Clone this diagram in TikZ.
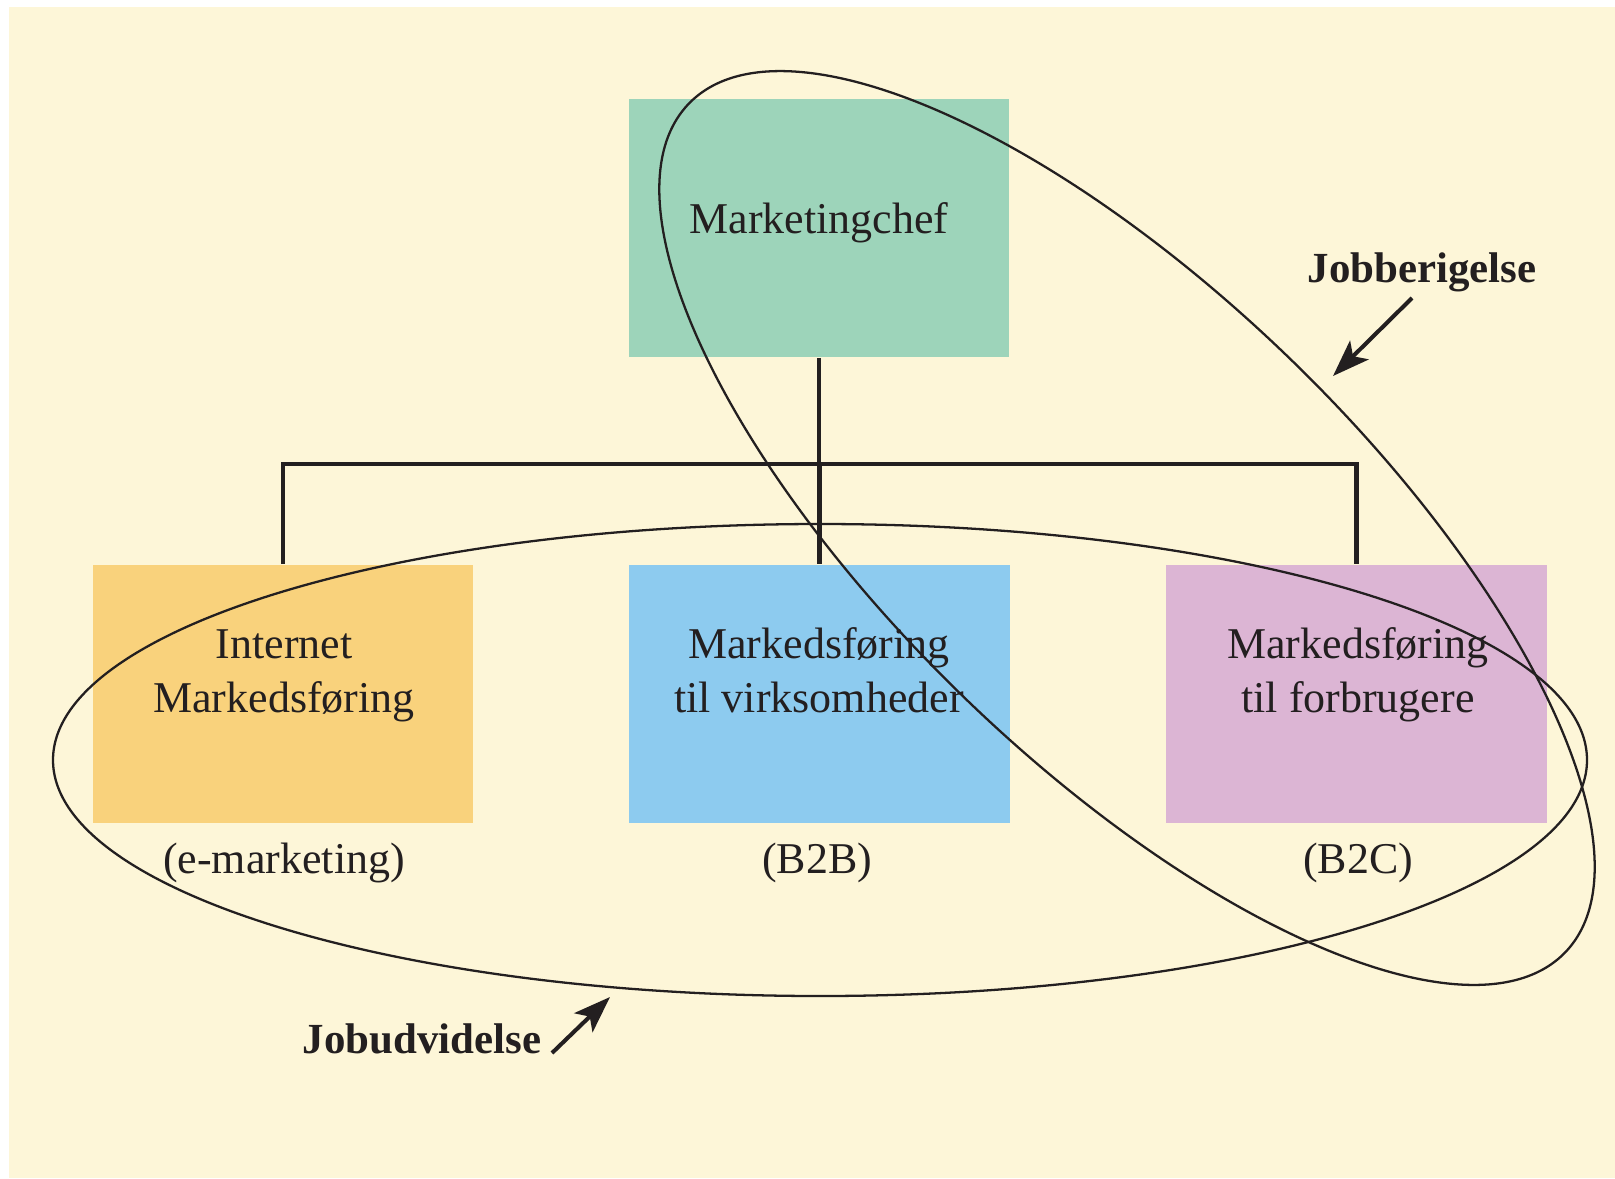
\documentclass[tikz,border=0pt]{standalone}
\usepackage{fontspec}
\setmainfont{Liberation Serif}
\usetikzlibrary{arrows.meta}

\definecolor{paper}{HTML}{FDF6D8}
\definecolor{ink}{HTML}{231F20}
\definecolor{chefgreen}{HTML}{9DD4BA}
\definecolor{webyellow}{HTML}{F9D27C}
\definecolor{bizblue}{HTML}{8DCBEF}
\definecolor{consumerpink}{HTML}{DCB5D4}

\tikzset{
  orgbox/.style={draw=none, inner sep=0pt, minimum width=3.8cm, minimum height=2.58cm},
  boxtext/.style={text=ink, anchor=base, inner sep=0pt, font=\fontsize{12.5pt}{15pt}\selectfont},
  tagtext/.style={text=ink, anchor=base, inner sep=0pt, font=\bfseries\fontsize{12.2pt}{14.6pt}\selectfont},
  conn/.style={draw=ink, line width=1.3pt, line join=miter},
  loop/.style={draw=ink, line width=0.65pt},
  pointer/.style={draw=ink, line width=1.15pt, -{Stealth[length=10.5pt, width=7.5pt, inset=2.5pt]}}
}

\begin{document}
\begin{tikzpicture}[x=0.01cm, y=-0.01cm]
  \useasboundingbox (0,0) rectangle (1615,1178);
  \fill[paper] (9,7) rectangle (1615,1178);

  % boxes of the organisation chart
  \node[orgbox, fill=chefgreen]    (chef) at (819,228) {};
  \node[orgbox, fill=webyellow]    (inet) at (283,694) {};
  \node[orgbox, fill=bizblue]      (b2b)  at (819.5,694) {};
  \node[orgbox, fill=consumerpink] (b2c)  at (1356.5,694) {};

  % connectors
  \coordinate (bus) at (819,464);
  \draw[conn] (chef.south) -- (chef.south |- bus);
  \draw[conn] (inet.north) -- (inet.north |- bus) -- (b2c.north |- bus) -- (b2c.north);
  \draw[conn] (b2b.north |- bus) -- (b2b.north);

  % box texts
  \node[boxtext] (chefT) at (819,233) {Marketingchef};
  \node[boxtext] (inetA) at (284,658) {Internet};
  \node[boxtext] (inetB) at (284,712) {Markedsføring};
  \node[boxtext] (b2bA)  at (819,658) {Markedsføring};
  \node[boxtext] (b2bB)  at (819,712) {til virksomheder};
  \node[boxtext] (b2cA)  at (1358,658) {Markedsføring};
  \node[boxtext] (b2cB)  at (1358,712) {til forbrugere};

  % captions under the boxes
  \node[boxtext] (inetC) at (284,873) {(e-marketing)};
  \node[boxtext] (b2bC)  at (817,873) {(B2B)};
  \node[boxtext] (b2cC)  at (1358,873) {(B2C)};

  % job enlargement / job enrichment loops
  \draw[loop] (820,760) ellipse [x radius=767, y radius=236];
  \draw[loop, rotate around={-44.1:(1127,528)}] (1127,528) ellipse [x radius=610, y radius=235];

  % labels with pointers
  \node[tagtext] (enrich) at (1422,282) {Jobberigelse};
  \node[tagtext] (enlarge) at (422,1053) {Jobudvidelse};
  \coordinate (enrichTail) at (1412,298);
  \coordinate (enrichTip)  at (1333,376);
  \coordinate (enlargeTail) at (552,1053);
  \coordinate (enlargeTip)  at (610,997);
  \draw[pointer] (enrichTail) -- (enrichTip);
  \draw[pointer] (enlargeTail) -- (enlargeTip);
\end{tikzpicture}
\end{document}
